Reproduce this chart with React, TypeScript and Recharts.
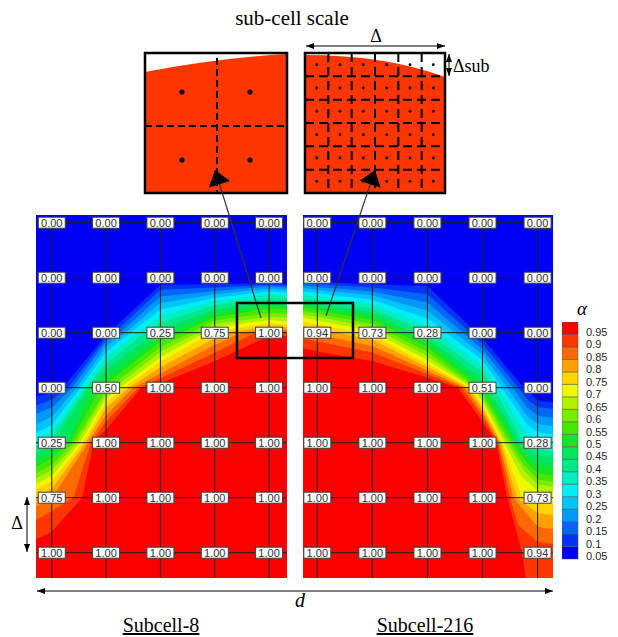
import React from "react";
import {
  ComposedChart,
  Area,
  Scatter,
  XAxis,
  YAxis,
  ReferenceArea,
  ReferenceLine,
  BarChart,
  Bar,
} from "recharts";

const SERIF = "'Liberation Serif', 'Times New Roman', serif";
const SANS = "'Liberation Sans', Arial, sans-serif";

// contour levels of the volume fraction; level i fills with BAND_COLORS[i + 1]
const LEVELS = [0.1, 0.15, 0.2, 0.25, 0.3, 0.35, 0.4, 0.45, 0.5, 0.55, 0.6, 0.65, 0.7, 0.75, 0.8, 0.85, 0.9, 0.95];
const BAND_LABELS = ["0.05", "0.1", "0.15", "0.2", "0.25", "0.3", "0.35", "0.4", "0.45", "0.5", "0.55", "0.6", "0.65", "0.7", "0.75", "0.8", "0.85", "0.9", "0.95"];
const BAND_COLORS = [
  "#0000f5", "#0033f5", "#0066f5", "#0099f8", "#00c4fa", "#00eef5", "#00eec0", "#00e88a", "#00e65a", "#12e52a",
  "#45e800", "#7aec00", "#b0f200", "#eef800", "#ffd400", "#ffa200", "#ff6a00", "#ff3600", "#fa0000",
];

const COLS = [0, 1, 2, 3, 4];
const ROWS = [0, 1, 2, 3, 4, 5, 6];

// cell values printed at the grid nodes (row by row, top to bottom)
const SUB8_ALPHA = [
  [0, 0, 0, 0, 0],
  [0, 0, 0, 0, 0],
  [0, 0, 0.25, 0.75, 1],
  [0, 0.5, 1, 1, 1],
  [0.25, 1, 1, 1, 1],
  [0.75, 1, 1, 1, 1],
  [1, 1, 1, 1, 1],
];
const SUB216_ALPHA = [
  [0, 0, 0, 0, 0],
  [0, 0, 0, 0, 0],
  [0.94, 0.73, 0.28, 0, 0],
  [1, 1, 1, 0.51, 0],
  [1, 1, 1, 1, 0.28],
  [1, 1, 1, 1, 0.73],
  [1, 1, 1, 1, 0.94],
];

// iso-lines in node units [column, row]; the region below each line is above that level
const SUB8_CONTOURS = [
  [[-0.29, 3.16], [0, 3.08], [0.2, 3.0], [1, 2.04], [2, 1.13], [3, 1.12], [4, 1.1], [4.33, 1.12]],
  [[-0.29, 3.33], [0, 3.22], [0.3, 3.0], [1, 2.1], [1.15, 2.0], [2, 1.22], [3, 1.18], [4, 1.13], [4.33, 1.15]],
  [[-0.29, 3.48], [0, 3.36], [0.38, 3.0], [1, 2.16], [1.25, 2.0], [2, 1.34], [3, 1.24], [4, 1.16], [4.33, 1.18]],
  [[-0.29, 3.67], [0, 3.53], [0.46, 3.0], [1, 2.25], [1.35, 2.0], [2, 1.46], [3, 1.3], [4, 1.2], [4.33, 1.22]],
  [[-0.29, 3.82], [0, 3.68], [0.53, 3.0], [1, 2.35], [1.45, 2.0], [2, 1.58], [3, 1.37], [4, 1.25], [4.33, 1.27]],
  [[-0.29, 3.94], [0, 3.8], [0.58, 3.0], [1, 2.44], [1.57, 2.0], [2, 1.7], [3, 1.43], [4, 1.3], [4.33, 1.32]],
  [[-0.29, 4.07], [0, 3.92], [0.63, 3.0], [1, 2.56], [1.72, 2.0], [2, 1.82], [3, 1.5], [4, 1.36], [4.33, 1.38]],
  [[-0.29, 4.19], [0, 4.04], [0.68, 3.0], [1, 2.68], [1.92, 2.0], [2, 1.94], [3, 1.58], [4, 1.42], [4.33, 1.44]],
  [[-0.29, 4.31], [0, 4.16], [0.28, 4.0], [0.74, 3.0], [1, 2.82], [2, 2.06], [2.2, 2.0], [3, 1.65], [4, 1.49], [4.33, 1.51]],
  [[-0.29, 4.44], [0, 4.28], [0.34, 4.0], [0.9, 3.0], [1, 2.93], [2, 2.16], [2.38, 2.0], [3, 1.72], [4, 1.56], [4.33, 1.58]],
  [[-0.29, 4.56], [0, 4.4], [0.4, 4.0], [1, 3.04], [1.05, 3.0], [2, 2.26], [2.55, 2.0], [3, 1.78], [4, 1.64], [4.33, 1.66]],
  [[-0.29, 4.65], [0, 4.5], [0.46, 4.0], [1, 3.11], [1.15, 3.0], [2, 2.35], [2.68, 2.0], [3, 1.84], [4, 1.71], [4.33, 1.73]],
  [[-0.29, 4.75], [0, 4.6], [0.52, 4.0], [1, 3.19], [1.25, 3.0], [2, 2.44], [2.82, 2.0], [3, 1.9], [4, 1.77], [4.33, 1.79]],
  [[-0.29, 4.84], [0, 4.7], [0.57, 4.0], [1, 3.27], [1.33, 3.0], [2, 2.53], [3, 1.98], [4, 1.83], [4.33, 1.85]],
  [[-0.29, 4.99], [0, 4.84], [0.62, 4.0], [1, 3.37], [1.42, 3.0], [2, 2.63], [3, 2.1], [3.25, 2.0], [4, 1.89], [4.33, 1.9]],
  [[-0.29, 5.16], [0, 5.01], [0.67, 4.0], [1, 3.49], [1.5, 3.0], [2, 2.74], [3, 2.22], [3.5, 2.0], [4, 1.94], [4.33, 1.95]],
  [[-0.29, 5.41], [0, 5.24], [0.4, 5.0], [0.72, 4.0], [1, 3.61], [1.6, 3.0], [2, 2.83], [3, 2.36], [3.75, 2.0], [4, 1.98], [4.33, 1.99]],
  [[-0.29, 5.76], [0, 5.62], [0.56, 5.0], [0.77, 4.0], [1, 3.76], [1.65, 3.0], [2, 2.92], [3, 2.52], [4, 2.06], [4.33, 2.06]],
];

const SUB216_CONTOURS = [
  [[-0.26, 1.06], [0, 1.08], [1, 1.12], [2, 1.15], [3, 2.1], [3.75, 3.0], [4, 3.23], [4.28, 3.27]],
  [[-0.26, 1.1], [0, 1.12], [1, 1.18], [2, 1.3], [3, 2.2], [3.65, 3.0], [3.85, 3.25], [4, 3.35], [4.28, 3.39]],
  [[-0.26, 1.14], [0, 1.17], [1, 1.25], [2, 1.45], [3, 2.3], [3.55, 3.0], [3.8, 3.35], [4, 3.51], [4.28, 3.55]],
  [[-0.26, 1.19], [0, 1.22], [1, 1.32], [2, 1.6], [3, 2.4], [3.45, 3.0], [3.8, 3.5], [4, 3.66], [4.28, 3.7]],
  [[-0.26, 1.25], [0, 1.28], [1, 1.4], [2, 1.74], [3, 2.5], [3.35, 3.0], [3.8, 3.65], [4, 3.81], [4.28, 3.85]],
  [[-0.26, 1.31], [0, 1.34], [1, 1.48], [2, 1.88], [3, 2.6], [3.28, 3.0], [3.8, 3.85], [4, 3.97], [4.28, 4.01]],
  [[-0.26, 1.37], [0, 1.4], [1, 1.56], [2, 2.0], [3, 2.72], [3.2, 3.0], [3.74, 4.0], [4, 4.12], [4.28, 4.16]],
  [[-0.26, 1.43], [0, 1.47], [1, 1.63], [2, 2.1], [3, 2.84], [3.1, 3.0], [3.68, 4.0], [4, 4.24], [4.28, 4.28]],
  [[-0.26, 1.49], [0, 1.53], [1, 1.7], [2, 2.17], [3, 2.96], [3.62, 4.0], [3.8, 4.25], [4, 4.39], [4.28, 4.43]],
  [[-0.26, 1.55], [0, 1.59], [1, 1.77], [2, 2.26], [2.95, 3.0], [3, 3.07], [3.56, 4.0], [3.8, 4.35], [4, 4.55], [4.28, 4.59]],
  [[-0.26, 1.61], [0, 1.65], [1, 1.84], [2, 2.35], [2.9, 3.0], [3, 3.14], [3.5, 4.0], [3.75, 4.4], [4, 4.67], [4.28, 4.71]],
  [[-0.26, 1.67], [0, 1.71], [1, 1.9], [2, 2.43], [2.86, 3.0], [3, 3.2], [3.45, 4.0], [3.75, 4.5], [4, 4.76], [4.28, 4.8]],
  [[-0.26, 1.73], [0, 1.78], [1, 1.97], [2, 2.5], [2.82, 3.0], [3, 3.26], [3.4, 4.0], [3.7, 4.6], [4, 4.88], [4.28, 4.92]],
  [[-0.26, 1.8], [0, 1.85], [1, 2.04], [2, 2.57], [2.78, 3.0], [3, 3.32], [3.36, 4.0], [3.72, 5.0], [4, 5.07], [4.28, 5.11]],
  [[-0.26, 1.88], [0, 1.93], [1, 2.13], [2, 2.63], [2.73, 3.0], [3, 3.38], [3.33, 4.0], [3.62, 5.0], [4, 5.28], [4.28, 5.32]],
  [[-0.26, 1.97], [0, 2.03], [1, 2.24], [2, 2.69], [2.68, 3.0], [3, 3.45], [3.3, 4.0], [3.56, 5.0], [4, 5.53], [4.28, 5.57]],
  [[-0.26, 2.1], [0, 2.16], [1, 2.36], [2, 2.75], [2.62, 3.0], [3, 3.52], [3.28, 4.0], [3.5, 5.0], [3.65, 5.5], [4, 5.8], [4.28, 5.84]],
  [[-0.26, 2.28], [0, 2.34], [1, 2.52], [2, 2.82], [2.55, 3.0], [3, 3.62], [3.25, 4.0], [3.45, 5.0], [3.72, 6.0], [3.78, 6.46]],
];

const ROW_TOP = -0.14;
const ROW_BOTTOM = 6.46;
const PANEL_H = 363;

// merge the iso-lines into one table keyed by column position (missing points -> null)
function contourTable(contours: number[][][]) {
  const xs = Array.from(new Set(contours.flat().map((p) => p[0]))).sort((a, b) => a - b);
  return xs.map((x) => {
    const row: Record<string, number | null> = { x };
    contours.forEach((line, i) => {
      const p = line.find((q) => q[0] === x);
      row[`l${i}`] = p ? p[1] : null;
    });
    return row;
  });
}

const NodeLabel = (props: any) => {
  const { cx, cy, payload } = props;
  if (cx == null || cy == null) return <g />;
  return (
    <g>
      <rect x={cx - 13.5} y={cy - 5.5} width={27} height={11} fill="#fff" stroke="#404040" strokeWidth={1} />
      <text x={cx} y={cy + 4} textAnchor="middle" fontSize={11} fontFamily={SANS} fill="#303030">
        {payload.v.toFixed(2)}
      </text>
    </g>
  );
};

function FractionPanel({ alpha, contours, xDomain, width }: { alpha: number[][]; contours: number[][][]; xDomain: [number, number]; width: number }) {
  const table = contourTable(contours);
  const nodes = alpha.flatMap((row, r) => row.map((v, c) => ({ x: c, y: r, v })));
  return (
    <ComposedChart width={width} height={PANEL_H} data={table} margin={{ top: 0, right: 0, bottom: 0, left: 0 }}>
      <XAxis type="number" dataKey="x" domain={xDomain} hide allowDataOverflow />
      <YAxis type="number" domain={[ROW_TOP, ROW_BOTTOM]} reversed hide allowDataOverflow />
      <ReferenceArea x1={xDomain[0]} x2={xDomain[1]} y1={ROW_TOP} y2={ROW_BOTTOM} fill={BAND_COLORS[0]} fillOpacity={1} stroke="none" />
      {LEVELS.map((lv, i) => (
        <Area
          key={lv}
          dataKey={`l${i}`}
          type="linear"
          baseValue="dataMax"
          connectNulls
          fill={BAND_COLORS[i + 1]}
          fillOpacity={1}
          stroke="none"
          dot={false}
          activeDot={false}
          isAnimationActive={false}
        />
      ))}
      {COLS.map((c) => (
        <ReferenceLine key={`c${c}`} x={c} stroke="#1e1e1e" strokeWidth={1} />
      ))}
      {ROWS.map((r) => (
        <ReferenceLine key={`r${r}`} y={r} stroke="#1e1e1e" strokeWidth={1} />
      ))}
      <Scatter data={nodes} dataKey="y" shape={NodeLabel} isAnimationActive={false} />
    </ComposedChart>
  );
}

const BandTick = (props: any) => {
  const { x, y, payload } = props;
  return (
    <text x={x} y={y + 7.5} fontSize={11} fill="#262626" fontFamily={SANS}>
      {BAND_LABELS[Math.floor(payload.value)]}
    </text>
  );
};

function ColorBar() {
  const row: Record<string, number | string> = { name: "alpha" };
  BAND_COLORS.forEach((_, i) => (row[`b${i}`] = 1));
  return (
    <BarChart width={62} height={247} data={[row]} margin={{ top: 0, right: 0, bottom: 10, left: 0 }} barCategoryGap={0}>
      <XAxis dataKey="name" hide />
      <YAxis
        type="number"
        orientation="right"
        domain={[0, BAND_COLORS.length]}
        ticks={BAND_LABELS.map((_, i) => i + 0.5)}
        interval={0}
        tick={<BandTick />}
        axisLine={false}
        tickLine={false}
        width={46}
      />
      {BAND_COLORS.map((col, i) => (
        <Bar key={col} dataKey={`b${i}`} stackId="band" fill={col} stroke="#505050" strokeWidth={0.5} isAnimationActive={false} />
      ))}
    </BarChart>
  );
}

function Head({ tip, from, len = 8, half = 3 }: { tip: [number, number]; from: [number, number]; len?: number; half?: number }) {
  const dx = tip[0] - from[0];
  const dy = tip[1] - from[1];
  const d = Math.hypot(dx, dy);
  const ux = dx / d;
  const uy = dy / d;
  const bx = tip[0] - ux * len;
  const by = tip[1] - uy * len;
  return <polygon points={`${tip[0]},${tip[1]} ${bx - uy * half},${by + ux * half} ${bx + uy * half},${by - ux * half}`} fill="#000" />;
}

function DoubleArrow({ a, b }: { a: [number, number]; b: [number, number] }) {
  return (
    <g>
      <line x1={a[0]} y1={a[1]} x2={b[0]} y2={b[1]} stroke="#000" strokeWidth={1} />
      <Head tip={a} from={b} />
      <Head tip={b} from={a} />
    </g>
  );
}

const INSET_RED = "#ff3600";

function Annotations() {
  const sub = 140 / 6;
  const fine = [1, 2, 3, 4, 5];
  const centers = [0, 1, 2, 3, 4, 5].map((k) => (k + 0.5) * sub);
  return (
    <svg width={618} height={637} style={{ position: "absolute", left: 0, top: 0, pointerEvents: "none" }}>
      <text x={292} y={25} textAnchor="middle" fontSize={21} fontFamily={SERIF}>sub-cell scale</text>

      {/* coarse cell: 2 x 2 sub-cells */}
      <rect x={145} y={53} width={142} height={140} fill={INSET_RED} />
      <path d="M145,53 L145,72 Q220,58 287,54 L287,53 Z" fill="#fff" />
      <line x1={217} y1={58} x2={217} y2={193} stroke="#000" strokeWidth={2} strokeDasharray="7 4" />
      <line x1={145} y1={126} x2={287} y2={126} stroke="#000" strokeWidth={2} strokeDasharray="7 4" />
      {[[182, 92], [250, 92], [182, 160], [250, 160]].map(([x, y]) => (
        <circle key={`${x}-${y}`} cx={x} cy={y} r={2.6} fill="#000" />
      ))}
      <rect x={145} y={53} width={142} height={140} fill="none" stroke="#000" strokeWidth={2.5} />

      {/* fine cell: 6 x 6 sub-cells */}
      <rect x={305} y={53} width={140} height={140} fill={INSET_RED} />
      <path d="M305,53 L445,53 L445,77 Q385,55 305,55 Z" fill="#fff" />
      {fine.map((k) => (
        <line key={`v${k}`} x1={305 + k * sub} y1={53} x2={305 + k * sub} y2={193} stroke="#000" strokeWidth={2} strokeDasharray="9 5" />
      ))}
      {fine.map((k) => (
        <line key={`h${k}`} x1={305} y1={53 + k * sub} x2={445} y2={53 + k * sub} stroke="#000" strokeWidth={2} strokeDasharray="9 5" />
      ))}
      {centers.flatMap((cy) =>
        centers.map((cx) => <circle key={`${cx}-${cy}`} cx={305 + cx} cy={53 + cy} r={1.4} fill="#000" />)
      )}
      <rect x={305} y={53} width={140} height={140} fill="none" stroke="#000" strokeWidth={2.5} />

      <DoubleArrow a={[306, 46]} b={[445, 46]} />
      <text x={376} y={42} textAnchor="middle" fontSize={18} fontFamily={SERIF}>Δ</text>
      <DoubleArrow a={[449, 54]} b={[449, 76]} />
      <text x={453} y={72} fontSize={18} fontFamily={SERIF}>Δsub</text>

      {/* pointers from the highlighted nodes to the insets */}
      <line x1={261} y1={318} x2={217} y2={176} stroke="#333" strokeWidth={1.2} />
      <Head tip={[215, 170]} from={[261, 318]} len={15} half={11} />
      <line x1={326} y1={316} x2={373} y2={176} stroke="#333" strokeWidth={1.2} />
      <Head tip={[375, 170]} from={[326, 316]} len={15} half={11} />
      <rect x={237} y={303} width={116} height={55} fill="none" stroke="#000" strokeWidth={2.5} />

      <DoubleArrow a={[27, 497]} b={[27, 552]} />
      <text x={17} y={529} textAnchor="middle" fontSize={18} fontFamily={SERIF}>Δ</text>

      <DoubleArrow a={[37, 591]} b={[553, 591]} />
      <text x={300} y={607} textAnchor="middle" fontSize={20} fontStyle="italic" fontFamily={SERIF}>d</text>
      <text x={161} y={632} textAnchor="middle" fontSize={20} fontFamily={SERIF} textDecoration="underline">Subcell-8</text>
      <text x={425} y={632} textAnchor="middle" fontSize={20} fontFamily={SERIF} textDecoration="underline">Subcell-216</text>

      <text x={582} y={315} textAnchor="middle" fontSize={19} fontStyle="italic" fontFamily={SERIF}>α</text>
    </svg>
  );
}

export default function App() {
  return (
    <div style={{ position: "absolute", left: 0, top: 0, width: 618, height: 637, background: "#fff", fontFamily: SERIF }}>
      <div style={{ position: "absolute", left: 36, top: 215 }}>
        <FractionPanel alpha={SUB8_ALPHA} contours={SUB8_CONTOURS} xDomain={[-0.29, 4.33]} width={251} />
      </div>
      <div style={{ position: "absolute", left: 303, top: 215 }}>
        <FractionPanel alpha={SUB216_ALPHA} contours={SUB216_CONTOURS} xDomain={[-0.26, 4.28]} width={250} />
      </div>
      <div style={{ position: "absolute", left: 562, top: 322 }}>
        <ColorBar />
      </div>
      <Annotations />
    </div>
  );
}
